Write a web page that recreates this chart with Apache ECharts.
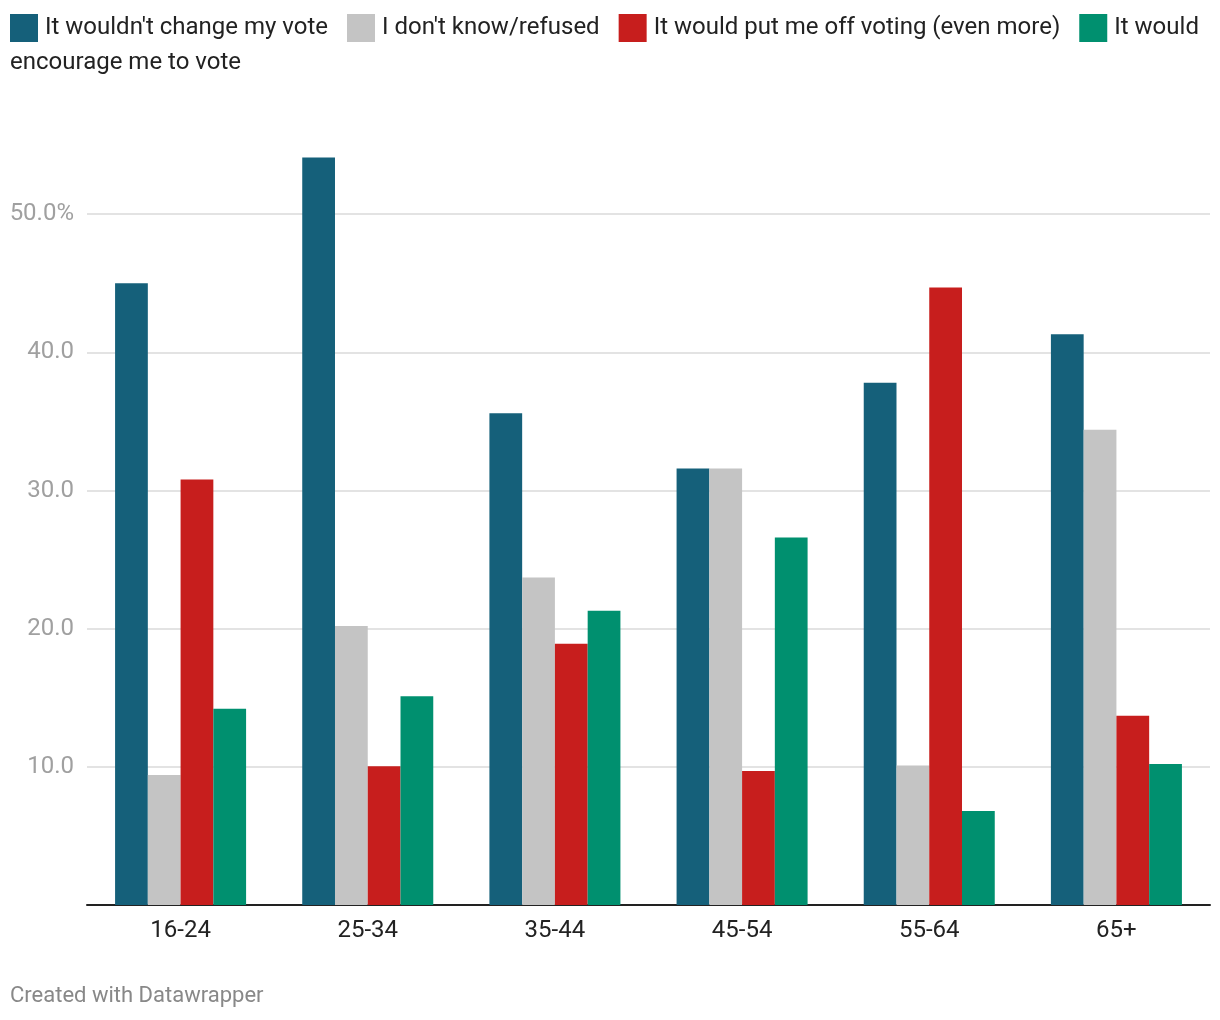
<!DOCTYPE html>
<html><head><meta charset="utf-8">
<script src="https://cdn.jsdelivr.net/npm/echarts@6/dist/echarts.min.js"></script>
<style>html,body{margin:0;padding:0;background:#fff}#c{width:1220px;height:1020px}</style>
</head><body><div id="c"></div>
<script>
const categories = ['16-24','25-34','35-44','45-54','55-64','65+'];
const seriesNames = ["It wouldn't change my vote","I don't know/refused","It would put me off voting (even more)","It would encourage me to vote"];
const wouldntChange = [45.0, 54.1, 35.6, 31.6, 37.8, 41.3];
const dontKnow = [9.4, 20.2, 23.7, 31.6, 10.1, 34.4];
const putOff = [30.8, 10.05, 18.9, 9.7, 44.7, 13.7];
const encourage = [14.2, 15.1, 21.3, 26.6, 6.8, 10.2];
const yTicks = [0, 10, 20, 30, 40, 50, 60];
const colors = ['#15607a', '#c4c4c4', '#c71e1d', '#00906f'];

const font = 'Roboto, "Noto Sans", sans-serif';
const chart = echarts.init(document.getElementById('c'), null, {renderer: 'canvas'});
const values = [wouldntChange, dontKnow, putOff, encourage];
chart.setOption({
  animation: false,
  color: colors,
  textStyle: {fontFamily: font},
  legend: {
    left: 10, top: 14, padding: 0, itemWidth: 28, itemHeight: 28, itemGap: 19,
    icon: 'rect',
    textStyle: {fontSize: 24, color: '#222', fontFamily: font, padding: [0, 0, 0, 2]},
    formatter: n => n === seriesNames[3] ? 'It would' : n,
    data: seriesNames
  },
  graphic: [
    {type: 'text', left: 10, top: 51, style: {text: 'encourage me to vote', fontSize: 24, fill: '#222', fontFamily: font}},
    {type: 'text', left: 10, top: 985, style: {text: 'Created with Datawrapper', fontSize: 22, fill: '#888', fontFamily: font}}
  ],
  grid: {left: 87, right: 10, top: 76, bottom: 115, containLabel: false},
  xAxis: {
    type: 'category', data: categories,
    axisLine: {lineStyle: {color: '#222', width: 2}},
    axisTick: {show: false},
    axisLabel: {fontSize: 24, color: '#222', margin: 14, fontFamily: font}
  },
  yAxis: {
    type: 'value', min: yTicks[0], max: yTicks[yTicks.length - 1], interval: 10,
    axisLine: {show: false}, axisTick: {show: false},
    splitLine: {lineStyle: {color: ['rgba(0,0,0,0)', '#e3e3e3', '#e3e3e3', '#e3e3e3', '#e3e3e3', '#e3e3e3', 'rgba(0,0,0,0)'], width: 2}},
    axisLabel: {
      fontSize: 24, color: '#a0a0a0', margin: 13, align: 'right', fontFamily: font,
      formatter: v => (v === 0 || v === 60) ? '' : (v === 50 ? v.toFixed(1) + '%' : v.toFixed(1))
    }
  },
  series: seriesNames.map((n, i) => ({
    name: n, type: 'bar', data: values[i],
    barGap: '0%', barCategoryGap: '30%',
    itemStyle: {color: colors[i]}
  }))
});
</script></body></html>
